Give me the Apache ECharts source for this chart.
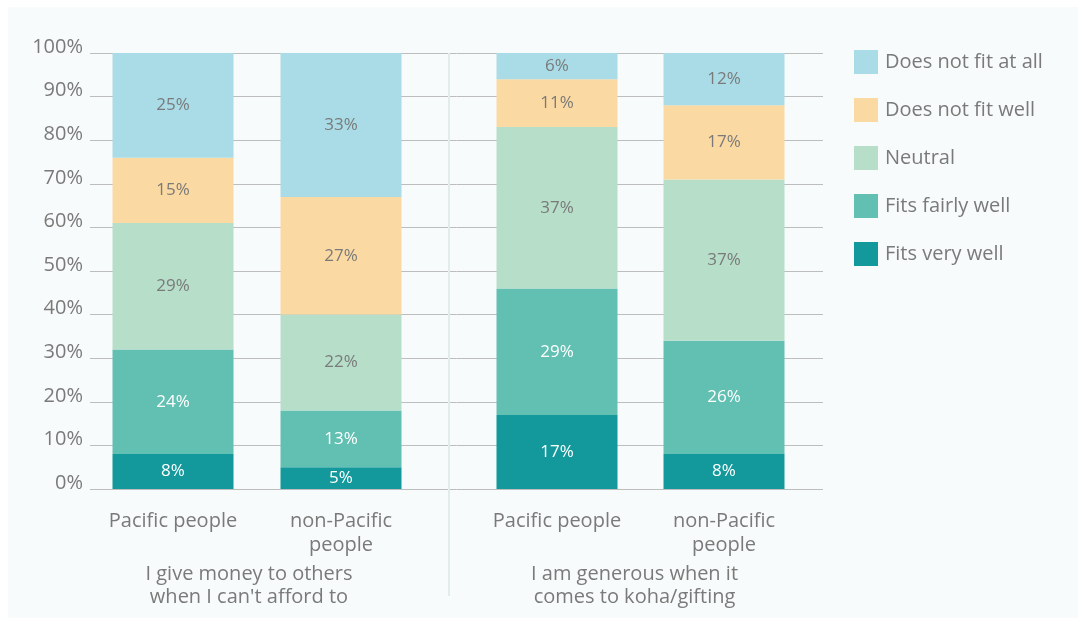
<!DOCTYPE html>
<html>
<head>
<meta charset="utf-8">
<style>
  html, body { margin: 0; padding: 0; background: #ffffff; }
  #chart { width: 1078px; height: 618px; }
</style>
<script src="https://cdn.jsdelivr.net/npm/echarts@6/dist/echarts.min.js"></script>
</head>
<body>
<div id="chart"></div>
<script>
// categories for the two groups
const groupNames = ["I give money to others\nwhen I can't afford to", "I am generous when it\ncomes to koha/gifting"];
const people = ["Pacific people", "non-Pacific\npeople"];
const yTicks = [0, 10, 20, 30, 40, 50, 60, 70, 80, 90, 100];

const seriesNames = ["Fits very well", "Fits fairly well", "Neutral", "Does not fit well", "Does not fit at all"];
const seriesColors = ["#13999b", "#62c0b2", "#b6dec9", "#fbd9a2", "#a9dce6"];
const labelColors = ["#ffffff", "#ffffff", "#7a7a7a", "#7a7a7a", "#7a7a7a"];

// values per series: [Pacific, non-Pacific]
const giveMoney = [
    [8, 5],    // Fits very well
    [24, 13],  // Fits fairly well
    [29, 22],  // Neutral
    [15, 27],  // Does not fit well
    [25, 33]   // Does not fit at all
];
const generous = [
    [17, 8],
    [29, 26],
    [37, 37],
    [11, 17],
    [6, 12]
];

const chart = echarts.init(document.getElementById("chart"));
const font = "Open Sans";
const gray = "#7a7a7a";

let series = [];
const groups = [giveMoney, generous];
for (let g = 0; g < groups.length; g++) {
    for (let s = 0; s < seriesNames.length; s++) {
        series.push({
            name: seriesNames[s],
            type: "bar",
            stack: "g" + g,
            xAxisIndex: g + 1,
            yAxisIndex: g + 1,
            barWidth: 121,
            data: groups[g][s],
            itemStyle: { color: seriesColors[s] },
            label: {
                show: true,
                position: "inside",
                formatter: "{c}%",
                color: labelColors[s],
                fontFamily: font,
                fontSize: 17
            }
        });
    }
}

const hiddenY = idx => ({
    type: "value",
    gridIndex: idx,
    min: 0,
    max: 100,
    show: false
});

const catX = (idx, name, shift) => ({
    type: "category",
    gridIndex: idx,
    data: people,
    axisLine: { show: false },
    axisTick: { show: false },
    axisLabel: {
        color: gray,
        fontFamily: font,
        fontSize: 20,
        lineHeight: 24,
        margin: 20
    },
    name: name,
    nameLocation: "middle",
    nameGap: 74,
    nameTextStyle: {
        color: gray,
        fontFamily: font,
        fontSize: 20,
        lineHeight: 23,
        padding: [0, shift, 0, 0]
    }
});

const option = {
    backgroundColor: "#ffffff",
    animation: false,
    graphic: [
        {
            type: "rect",
            z: -10,
            silent: true,
            shape: { x: 8, y: 7, width: 1070, height: 611 },
            style: { fill: "#f8fbfb" }
        },
        {
            type: "line",
            z: 10,
            silent: true,
            shape: { x1: 449, y1: 53, x2: 449, y2: 596 },
            style: { stroke: "#e2edea", lineWidth: 2 }
        }
    ],
    legend: {
        left: 849,
        top: 45,
        orient: "vertical",
        icon: "rect",
        itemWidth: 24,
        itemHeight: 24,
        itemGap: 24,
        data: seriesNames.slice().reverse(),
        textStyle: {
            color: gray,
            fontFamily: font,
            fontSize: 20,
            padding: [0, 0, 0, 2]
        }
    },
    grid: [
        { left: 90, right: 255, top: 53, bottom: 129 },
        { left: 89, width: 336, top: 53, bottom: 129 },
        { left: 473.5, width: 334, top: 53, bottom: 129 }
    ],
    xAxis: [
        { type: "value", gridIndex: 0, show: false, min: 0, max: 1 },
        catX(1, groupNames[0], 16),
        catX(2, groupNames[1], 12)
    ],
    yAxis: [
        {
            type: "value",
            gridIndex: 0,
            min: yTicks[0],
            max: yTicks[yTicks.length - 1],
            interval: 10,
            axisLine: { show: false },
            axisTick: { show: false },
            axisLabel: {
                formatter: "{value}%",
                color: gray,
                fontFamily: font,
                fontSize: 20,
                margin: 7,
                verticalAlign: "bottom",
                lineHeight: 12
            },
            splitLine: { lineStyle: { color: "#bdbdbd", width: 1 } }
        },
        hiddenY(1),
        hiddenY(2)
    ],
    series: series
};

chart.setOption(option);
</script>
</body>
</html>
